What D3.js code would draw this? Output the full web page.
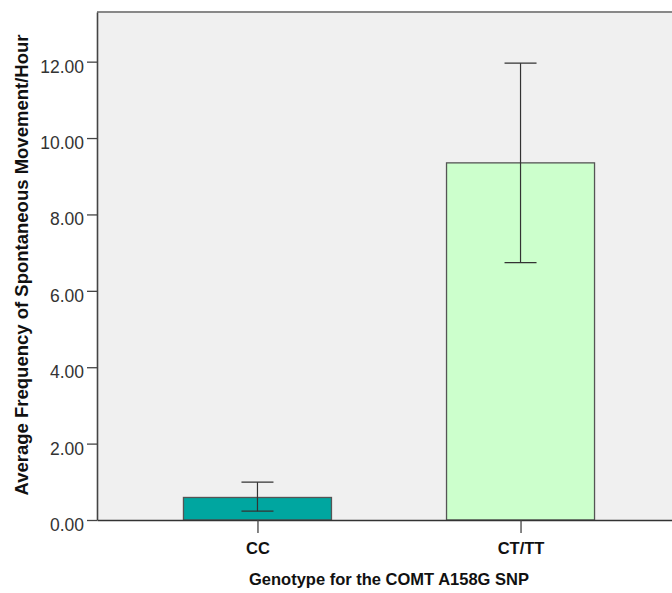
<!DOCTYPE html>
<html>
<head>
<meta charset="utf-8">
<script src="https://cdn.jsdelivr.net/npm/d3@7"></script>
<style>
  html, body { margin: 0; padding: 0; background: #ffffff; }
  svg { display: block; }
</style>
</head>
<body>
<div id="chart"></div>
<script>
// ---- data ----
const categories = ["CC", "CT/TT"];
const means = [0.59, 9.35];
const errLow = [0.23, 6.74];
const errHigh = [0.99, 11.96];
const barColors = ["#00a6a0", "#ccffcc"];
const yTicks = [0, 2, 4, 6, 8, 10, 12];
const yTitle = "Average Frequency of Spontaneous Movement/Hour";
const xTitle = "Genotype for the COMT A158G SNP";

// ---- layout ----
const W = 672, H = 593;
const plot = { left: 97, top: 12, right: 681, bottom: 520 };

const svg = d3.select("#chart").append("svg")
  .attr("width", W).attr("height", H);

const x = d3.scalePoint().domain(categories)
  .range([plot.left, plot.right]).padding(0.61);
const y = d3.scaleLinear().domain([0, 13.3]).range([plot.bottom, plot.top]);
const barW = 148;

// background
svg.append("rect")
  .attr("x", plot.left).attr("y", plot.top)
  .attr("width", plot.right - plot.left).attr("height", plot.bottom - plot.top)
  .attr("fill", "#f0f0f0");

// top border
svg.append("line")
  .attr("x1", plot.left).attr("x2", plot.right)
  .attr("y1", plot.top).attr("y2", plot.top)
  .attr("stroke", "#888").attr("stroke-width", 2);

// bars
const data = categories.map((c, i) => ({ c, m: means[i], lo: errLow[i], hi: errHigh[i], col: barColors[i] }));
svg.selectAll("rect.bar").data(data).enter().append("rect")
  .attr("class", "bar")
  .attr("x", d => x(d.c) - barW / 2)
  .attr("y", d => y(d.m))
  .attr("width", barW)
  .attr("height", d => y(0) - y(d.m))
  .attr("fill", d => d.col)
  .attr("stroke", "#555")
  .attr("stroke-width", 1.3);

// error bars
const capW = 32;
const eb = svg.selectAll("g.eb").data(data).enter().append("g").attr("class", "eb")
  .attr("stroke", "#333").attr("stroke-width", 1.2);
eb.append("line").attr("x1", d => x(d.c)).attr("x2", d => x(d.c))
  .attr("y1", d => y(d.lo)).attr("y2", d => y(d.hi));
eb.append("line").attr("x1", d => x(d.c) - capW / 2).attr("x2", d => x(d.c) + capW / 2)
  .attr("y1", d => y(d.lo)).attr("y2", d => y(d.lo));
eb.append("line").attr("x1", d => x(d.c) - capW / 2).attr("x2", d => x(d.c) + capW / 2)
  .attr("y1", d => y(d.hi)).attr("y2", d => y(d.hi));

// y axis
const yAxis = d3.axisLeft(y).tickValues(yTicks).tickFormat(d3.format(".2f")).tickSize(10).tickSizeOuter(0);
const gy = svg.append("g").attr("transform", `translate(${plot.left},0)`).call(yAxis);
gy.select(".domain").attr("stroke", "#444").attr("stroke-width", 1.6);
gy.selectAll(".tick line").attr("stroke", "#444").attr("stroke-width", 1.3);
gy.selectAll(".tick text")
  .attr("x", -13).attr("dy", "0.6em")
  .attr("font-family", "'Liberation Sans', Arial, sans-serif")
  .attr("font-size", 17.5).attr("fill", "#333");

// x axis
const xAxis = d3.axisBottom(x).tickSize(13).tickSizeOuter(0);
const gx = svg.append("g").attr("transform", `translate(0,${plot.bottom})`).call(xAxis);
gx.select(".domain").attr("stroke", "#333").attr("stroke-width", 1.6);
gx.selectAll(".tick line").attr("stroke", "#444").attr("stroke-width", 1.3);
gx.selectAll(".tick text")
  .attr("y", 34).attr("dy", 0)
  .attr("font-family", "'Liberation Sans', Arial, sans-serif")
  .attr("font-weight", "bold")
  .attr("font-size", 16.5).attr("fill", "#111");

// titles
svg.append("text")
  .attr("transform", `translate(28,${(30 + 500) / 2}) rotate(-90)`)
  .attr("text-anchor", "middle")
  .attr("font-family", "'Liberation Sans', Arial, sans-serif")
  .attr("font-weight", "bold").attr("font-size", 18.5).attr("fill", "#111")
  .text(yTitle);

svg.append("text")
  .attr("x", 389).attr("y", 585)
  .attr("text-anchor", "middle")
  .attr("font-family", "'Liberation Sans', Arial, sans-serif")
  .attr("font-weight", "bold").attr("font-size", 16.5).attr("fill", "#111")
  .text(xTitle);
</script>
</body>
</html>
